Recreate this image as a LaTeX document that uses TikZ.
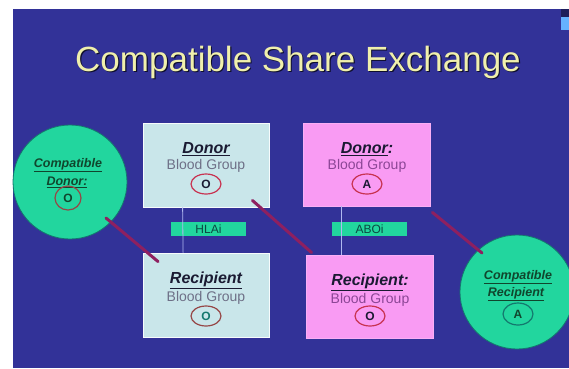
\documentclass[tikz,border=0pt]{standalone}
\usepackage{fontspec}
\setmainfont{Liberation Sans}
\usetikzlibrary{calc,shapes.geometric}
\definecolor{bgblue}{RGB}{50,50,152}
\definecolor{lightbox}{RGB}{201,230,234}
\definecolor{pinkbox}{RGB}{249,155,243}
\definecolor{greenc}{RGB}{34,214,158}
\definecolor{greenedge}{RGB}{20,120,110}
\definecolor{linered}{RGB}{142,32,96}
\definecolor{titlecol}{RGB}{240,240,172}
\definecolor{darktxt}{RGB}{26,26,50}
\definecolor{graytxt}{RGB}{110,112,135}
\definecolor{purpletxt}{RGB}{140,70,150}
\definecolor{ringred}{RGB}{200,50,80}
\definecolor{ringbrown}{RGB}{150,70,70}
\definecolor{vline}{RGB}{176,184,240}
\definecolor{greentxt}{RGB}{16,70,45}
\begin{document}
\begin{tikzpicture}[x=1pt,y=-1pt,
  boxl/.style={draw=white!85!lightbox,line width=0.8pt,fill=lightbox,minimum width=126pt,minimum height=84pt,inner sep=0pt},
  boxp/.style={draw=pinkbox!80!white,line width=0.8pt,fill=pinkbox,minimum width=127pt,minimum height=83pt,inner sep=0pt},
  compc/.style={circle,draw=greenedge,line width=0.8pt,fill=greenc,minimum size=114pt,inner sep=0pt},
  head/.style={font=\fontsize{16}{18}\selectfont\bfseries\itshape,text=darktxt,inner sep=0pt},
  bgtxt/.style={font=\fontsize{14}{16}\selectfont,inner sep=0pt},
  ctxt/.style={font=\fontsize{12.5}{14}\selectfont\bfseries\itshape,text=greentxt,inner sep=0pt},
  ring/.style={ellipse,draw=ringred,line width=1.2pt,minimum width=30pt,minimum height=20pt,inner sep=0pt,font=\fontsize{12}{13}\selectfont\bfseries,text=darktxt},
  tag/.style={fill=greenc,minimum width=75pt,minimum height=14pt,inner sep=0pt,font=\fontsize{12}{13}\selectfont,text=greenedge!60!black},
  conn/.style={draw=linered,line width=3pt,line cap=round},
  vconn/.style={draw=vline,line width=0.8pt}]
% background
\fill[white] (0,0) rectangle (569,368);
\fill[bgblue] (13,9) rectangle (569,368);
\fill[bgblue!60!black] (561,9) rectangle (569,17);
\fill[blue!50!cyan!60!white] (561,17) rectangle (569,30);
\useasboundingbox (0,0) rectangle (569,368);
% title
\node[anchor=base,text=black!70!bgblue,font=\fontsize{35}{40}\selectfont,inner sep=0pt] (titles) at (299.2,72.2) {Compatible Share Exchange};
\node[anchor=base,text=titlecol,font=\fontsize{35}{40}\selectfont,inner sep=0pt] (title) at (298,71) {Compatible Share Exchange};
% circles
\node[compc] (cd) at (70,182) {};
\node[compc] (cr) at (517,292) {};
% boxes
\node[boxl] (dl) at (206,165) {};
\node[boxl] (rl) at (206.5,295) {};
\node[boxp] (dp) at (366.5,164.5) {};
\node[boxp] (rp) at (369.5,296.5) {};
% vertical links and tags
\node[tag] (t1) at (208.5,229) {HLAi};
\node[tag] (t2) at (369.5,229) {ABOi};
\draw[vconn] ($(dl.south west)+(40,0)$) -- ($(rl.north west)+(40,0)$);
\draw[vconn] ($(dp.south west)+(39,0)$) -- ($(rp.north west)+(36,0)$);
% texts in boxes
\node[head] (dlh) at (206,149) {\underline{Donor}};
\node[bgtxt,text=graytxt] (dlb) at (206,166) {Blood Group};
\node[ring] (dlo) at (206,184) {O};
\node[head] (rlh) at (206,280) {\underline{Recipient}};
\node[bgtxt,text=graytxt] (rlb) at (206,298) {Blood Group};
\node[ring,draw=ringbrown,text=greenedge] (rlo) at (206,316) {O};
\node[head] (dph) at (367,149) {\underline{Donor}:};
\node[bgtxt,text=purpletxt] (dpb) at (367,166) {Blood Group};
\node[ring] (dpo) at (367,184) {A};
\node[head] (rph) at (370,282) {\underline{Recipient}:};
\node[bgtxt,text=purpletxt] (rpb) at (370,300) {Blood Group};
\node[ring] (rpo) at (370,316) {O};
% circle texts
\node[ctxt] (cdh1) at (68,165) {\underline{Compatible}};
\node[ctxt] (cdh2) at (67,182) {\underline{Donor:}};
\node[ring,draw=ringbrown,minimum width=26pt,minimum height=24pt,text=greentxt] (cdo) at (68,198) {O};
\node[ctxt] (crh1) at (518,277) {\underline{Compatible}};
\node[ctxt] (crh2) at (516,294) {\underline{Recipient}};
\node[ring,draw=greenedge,minimum width=30pt,minimum height=22pt,text=greentxt] (cro) at (518,314) {A};
% connectors
\draw[conn] ($(cd.center)+(36,36)$) -- ($(rl.north west)+(15,9)$);
\draw[conn] ($(dl.south east)+(-17,-7)$) -- ($(rp.north west)+(6,-2)$);
\draw[conn] ($(dp.south east)+(2,6)$) -- ($(cr.center)+(-35,-39)$);
\end{tikzpicture}
\end{document}
